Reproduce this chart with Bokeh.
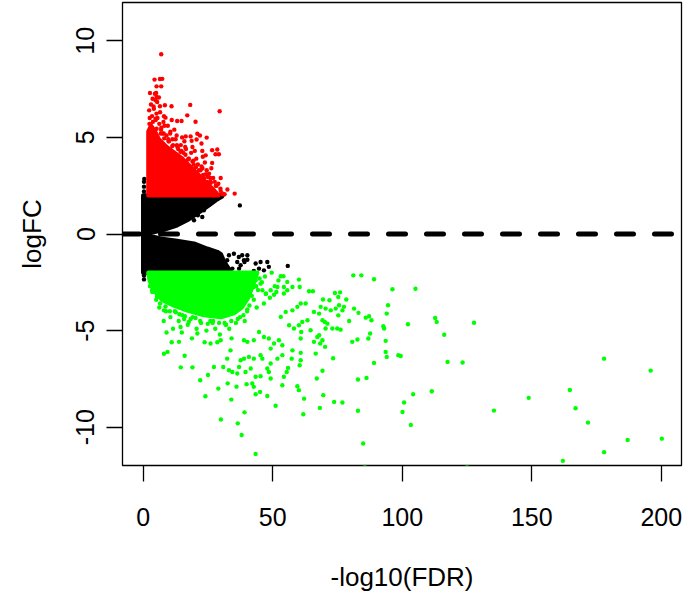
from bokeh.plotting import figure
from bokeh.models import Range1d, FixedTicker, Span
from bokeh.embed import file_html
from bokeh.resources import INLINE

# ---------------- data ----------------
x_ticks = [0, 50, 100, 150, 200]
y_ticks = [-10, -5, 0, 5, 10]
x_title = "-log10(FDR)"
y_title = "logFC"
hline_y = 0

# dense cores (outline of the solidly overplotted areas)
black_up_x = [0, 1, 4, 8, 13, 17, 21, 25, 28, 30.5, 30.5, 0]
black_up_y = [0.03, 0.05, 0.1, 0.22, 0.45, 0.72, 1.08, 1.45, 1.75, 1.95, 2.0, 2.0]
black_dn_x = [0, 1, 6.7, 13.1, 19.6, 24.7, 28.6, 30, 31, 33, 34, 0]
black_dn_y = [-0.03, -0.05, -0.24, -0.36, -0.5, -0.76, -0.93, -1.05, -1.4, -1.8, -2.0, -2.0]
red_core_x = [2.0, 2.0, 3, 4.5, 6, 9, 12, 15, 18, 21, 24, 27, 29]
red_core_y = [2.0, 5.3, 5.6, 5.3, 4.9, 4.5, 4.2, 3.9, 3.5, 3.1, 2.7, 2.3, 2.0]
green_core_x = [2.0, 44, 42.5, 40.5, 38, 35, 30, 23.4, 17, 11.8, 7.3, 4.1, 2.5]
green_core_y = [-2.0, -2.0, -2.6, -3.3, -3.8, -4.1, -4.3, -4.2, -3.95, -3.7, -3.4, -2.9, -2.4]

# individual points
black_x = [37.3, 21.1, 23.4, 25.7, 27.9, 22.8, 19.6, 0.3, 0.3, 0.3, 0.4, 0.3, 0.3,
           27.3, 29.2, 30.5, 32.4, 33.1, 35.0, 36.9, 38.2, 40.2, 36.3, 37.6, 38.9,
           43.4, 45.3, 47.9, 44.7, 46.6, 48.5, 55.8, 34.4, 31.8, 42.7, 40.2, 39.1, 37.0]
black_y = [1.48, 0.97, 1.23, 1.54, 1.78, 0.88, 0.71, 2.2, 2.45, 2.7, 2.85, -2.15, -2.35,
           -0.98, -1.10, -1.22, -1.36, -1.10, -1.02, -1.19, -1.10, -1.10, -1.45, -1.62, -1.36,
           -1.53, -1.45, -1.45, -1.79, -1.88, -1.70, -1.65, -1.79, -1.71, -1.91, -1.33, -1.45, -1.79]

red_x = [6.94, 4.37, 6.45, 7.35, 5.14, 6.94, 4.50, 5.14, 6.04, 4.76, 5.40, 6.45, 8.36, 10.93,
         18.14, 29.5, 4.11, 5.14, 4.76, 8.0, 8.6, 13.1, 14.8, 17.0, 20.2, 18.3, 16.4, 20.9,
         21.9, 24.5, 20.6, 18.7, 22.5, 22.8, 26.6, 28.6, 27.9, 29.2, 24.1, 26.6, 29.9, 25.4,
         24.7, 25.4, 27.9, 31.4, 35.3, 29.9,
         2.3, 3.0, 3.6, 2.6, 4.0, 5.5, 6.2, 7.0, 7.5, 9.0, 9.8, 10.5, 11.5, 12.5, 13.5, 14.5,
         15.5, 16.5, 17.5, 18.5, 19.5, 20.5, 21.5, 22.5, 23.5, 24.5, 26.0, 27.0, 28.0, 29.0,
         12.0, 15.0, 19.0, 23.0, 11.0, 9.5, 7.8, 6.5, 5.0, 30.5, 32.5,
         2.5, 3.4, 4.8, 6.9, 7.9, 9.7, 11.3, 13.0, 14.8, 17.6, 19.4, 21.1, 22.9, 24.2,
         25.9, 27.6, 30.8, 16.2, 10.4, 8.2, 12.9, 15.9, 19.9, 23.8, 26.3,
         2.4, 3.7, 5.2, 6.8, 8.1, 9.9, 11.2, 13.2, 14.4, 16.3, 17.3, 19.0, 20.3, 22.1,
         23.1, 25.0, 26.1, 28.3, 29.8]
red_y = [9.30, 7.99, 8.02, 8.03, 7.64, 7.64, 7.26, 7.09, 7.06, 6.92, 6.83, 6.61, 6.66, 6.61,
         6.68, 6.35, 6.48, 6.23, 5.97, 6.09, 6.02, 5.85, 5.85, 6.14, 5.81, 5.05, 5.05, 5.19,
         5.10, 4.99, 4.89, 4.82, 4.68, 4.30, 4.34, 4.37, 4.13, 4.13, 4.07, 3.68, 2.90, 3.12,
         2.69, 2.52, 2.13, 2.06, 2.09, 2.23,
         6.4, 6.7, 7.0, 7.3, 6.6, 6.0, 5.7, 5.5, 5.2, 5.1, 4.8, 5.3, 4.6, 4.9, 4.4, 4.6,
         4.2, 4.4, 3.9, 4.2, 3.6, 3.9, 3.3, 3.5, 2.9, 3.3, 2.7, 2.9, 2.5, 2.6,
         5.4, 5.0, 4.5, 4.0, 5.9, 5.6, 5.8, 6.3, 7.3, 2.1, 2.3,
         6.0, 6.1, 5.9, 5.4, 5.2, 4.9, 4.9, 4.6, 4.3, 3.9, 3.8, 3.6, 3.4, 3.1,
         2.9, 2.7, 2.05, 4.5, 5.2, 5.6, 5.1, 4.8, 4.3, 3.7, 3.4,
         5.7, 5.8, 5.45, 5.2, 4.95, 4.8, 4.55, 4.5, 4.25, 4.1, 3.85, 3.75, 3.45, 3.3,
         3.05, 2.95, 2.65, 2.5, 2.35]

green_x = [81.1, 84.2, 89.1, 96.2, 53.1, 54.1, 60.1, 55.6, 57.6, 60.4, 64.0, 65.5, 74.0, 76.0,
           71.9, 69.4, 78.4, 75.3, 51.8, 54.3, 49.2, 47.4, 50.5, 55.6, 54.3, 45.3, 43.4, 42.7,
           46.0, 60.8, 62.7, 59.5, 57.6, 55.0, 53.1, 68.5, 70.4, 72.4, 74.3, 75.6, 76.9, 77.5,
           65.9, 67.9, 69.2, 70.1, 71.1, 70.4, 73.0, 74.9, 76.2, 75.3, 79.5, 81.4, 83.1, 85.9,
           87.2, 88.1, 92.7, 93.0, 94.0, 94.5, 63.4, 64.6, 61.4, 60.1, 58.2, 56.3, 67.2, 67.9,
           69.2, 70.2, 68.3, 65.9, 60.8, 61.0, 80.7, 82.7, 86.9, 87.6, 93.6, 93.6, 94.0, 98.5,
           89.1, 73.3, 66.6, 69.2, 67.0, 60.8, 60.8, 60.4, 57.6, 57.3, 55.9, 55.4, 53.7, 52.4,
           50.5, 49.2, 48.5, 46.6, 44.7, 42.7, 40.2, 38.9, 53.7, 51.8, 49.2, 47.9, 46.0, 45.3,
           42.7, 40.8, 38.9, 37.6, 37.0, 33.7, 32.4, 33.1, 30.9, 27.3, 26.0, 29.9, 34.4, 36.3,
           39.5, 41.5, 45.3, 48.5, 49.2, 43.4, 42.1, 42.7, 39.9, 45.1, 47.9, 43.4, 54.3, 53.7,
           51.1, 59.5, 60.1, 62.1, 61.8, 69.5, 68.2, 73.7, 76.9, 82.9, 86.2, 82.9, 84.9, 43.4,
           34.0,
           105.1, 102.2, 112.7, 113.3, 116.2, 127.7, 117.5, 123.3, 99.4, 104.2, 100.7, 100.1,
           103.3, 111.4, 135.4, 148.8, 164.7, 166.9, 171.7, 177.9, 195.9, 162.0, 177.9, 187.0,
           200.2, 125.0, 85.5,
           8.0, 15.1, 14.4, 17.6, 13.8, 20.9,
           9.0, 11.0, 8.0, 14.5, 22.0, 32.6, 39.1, 9.4, 16.0, 19.0, 25.0, 29.0,
           36.0, 24.0, 30.0, 36.5, 38.0,
           3.5, 5.0, 6.2, 8.8, 10.5, 12.2, 13.7, 15.8, 17.2, 19.1, 20.6, 22.3, 24.4, 25.9,
           27.8, 29.6, 31.4, 33.2, 35.8, 37.4, 39.2, 41.0, 42.7, 44.3, 45.8, 47.3, 14.9, 18.8,
           23.7, 28.6, 34.1, 11.5, 7.9, 26.8, 32.0, 40.1, 43.8, 46.6, 48.9, 50.8, 52.2, 47.0,
           44.9, 49.6, 51.4,
           43.6, 41.9, 40.2, 38.7, 36.5, 34.0, 31.8, 29.3, 27.0, 24.9, 22.0, 20.2, 18.3, 16.1,
           14.0, 12.6, 10.3, 8.6, 6.5, 5.3, 3.4, 2.6]
green_y = [-2.14, -2.14, -2.34, -2.86, -2.19, -2.19, -2.36, -2.48, -2.74, -2.74, -2.96, -2.96,
           -3.05, -3.02, -3.43, -3.39, -3.39, -3.26, -2.74, -2.74, -2.91, -3.08, -3.14, -2.91,
           -3.08, -2.57, -2.39, -2.74, -2.91, -3.60, -3.60, -3.77, -3.95, -4.03, -4.29, -3.77,
           -3.86, -3.95, -3.86, -3.69, -3.95, -3.77, -4.03, -4.12, -4.46, -4.55, -4.64, -4.89,
           -4.89, -4.89, -4.95, -4.21, -4.50, -3.86, -4.08, -4.33, -4.26, -4.46, -4.77, -4.89,
           -4.12, -3.69, -4.46, -4.98, -4.55, -4.72, -4.89, -4.72, -5.33, -5.24, -5.50, -5.84,
           -5.67, -5.58, -5.41, -5.07, -5.58, -5.46, -5.41, -5.15, -5.53, -6.10, -6.36, -6.27,
           -6.67, -6.43, -6.19, -7.08, -7.48, -6.15, -6.53, -6.79, -6.02, -6.45, -6.93, -7.14,
           -5.76, -5.50, -5.67, -5.93, -5.41, -5.33, -5.07, -5.50, -5.58, -5.50, -6.27, -6.45,
           -6.70, -6.96, -6.45, -6.27, -6.45, -6.36, -6.45, -6.53, -6.88, -6.02, -6.45, -7.05,
           -6.88, -6.88, -5.67, -5.50, -7.14, -7.22, -7.14, -6.96, -7.36, -7.14, -7.48, -7.39,
           -7.74, -7.91, -7.77, -8.17, -8.38, -8.29, -7.39, -7.83, -8.89, -7.88, -8.08, -8.52,
           -9.33, -8.34, -9.00, -8.69, -8.72, -7.53, -7.45, -9.15, -10.84, -11.38, -8.57,
           -2.83, -4.67, -4.35, -4.55, -5.21, -4.59, -6.62, -6.65, -6.31, -8.29, -8.72, -9.21,
           -9.88, -8.14, -9.14, -8.48, -8.07, -9.02, -9.76, -6.45, -7.07, -11.74, -11.29, -10.66,
           -10.59, -12.05, -12.05,
           -3.95, -4.2, -4.81, -4.55, -5.58, -5.15,
           -5.1, -5.6, -6.2, -6.9, -7.57, -7.73, -9.23, -6.1, -6.3, -6.9,
           -7.3, -8.0, -7.9, -8.4, -9.6, -9.8, -10.4,
           -3.0, -3.4, -3.8, -4.0, -4.3, -4.0, -4.5, -4.4, -4.7, -4.3, -4.9, -4.6, -5.0, -4.5,
           -4.9, -5.2, -4.6, -4.9, -4.6, -4.3, -4.5, -3.7, -3.4, -2.9, -2.5, -3.1, -5.1, -5.4,
           -5.6, -5.6, -5.4, -4.9, -4.5, -4.6, -4.7, -4.0, -3.8, -3.6, -3.3, -2.7, -2.4, -2.2,
           -2.3, -2.0, -3.0,
           -2.7, -3.2, -3.9, -4.2, -4.4, -4.5, -4.7, -4.6, -4.5, -4.65, -4.5, -4.35, -4.4, -4.25,
           -4.15, -4.05, -4.0, -3.75, -3.6, -3.25, -2.9, -2.7]

# ---------------- styling ----------------
FONT = "Liberation Sans"
BLACK = "#000000"
RED = "#FF0000"
GREEN = "#00FF00"
DOT = 4.4

p = figure(width=684, height=594, output_backend="svg", toolbar_location=None,
           x_range=Range1d(-8.0, 207.8), y_range=Range1d(-11.98, 11.98),
           min_border_left=122, min_border_right=3, min_border_top=2,
           min_border_bottom=129)
p.grid.visible = False
p.outline_line_color = "black"
p.outline_line_width = 1.3

for ax in (p.xaxis[0], p.yaxis[0]):
    ax.axis_line_color = None
    ax.major_tick_out = 16
    ax.major_tick_in = 0
    ax.minor_tick_out = 0
    ax.minor_tick_in = 0
    ax.major_tick_line_width = 1.3
    ax.major_tick_line_color = "black"
    ax.major_label_text_font = FONT
    ax.major_label_text_font_size = "25px"
    ax.major_label_text_color = "black"
    ax.axis_label_text_font = FONT
    ax.axis_label_text_font_size = "26px"
    ax.axis_label_text_font_style = "normal"
    ax.axis_label_text_color = "black"

p.xaxis.ticker = FixedTicker(ticks=x_ticks)
p.yaxis.ticker = FixedTicker(ticks=y_ticks)
p.xaxis.major_label_overrides = {t: str(t) for t in x_ticks}
p.yaxis.major_label_overrides = {t: str(t) for t in y_ticks}
p.yaxis.major_label_orientation = "vertical"
p.xaxis.axis_label = x_title
p.yaxis.axis_label = y_title
p.xaxis.major_label_standoff = 26
p.yaxis.major_label_standoff = 12
p.xaxis.axis_label_standoff = 33
p.yaxis.axis_label_standoff = 27

# black (not significant)
p.patch(black_up_x, black_up_y, fill_color=BLACK, line_color=BLACK, line_width=DOT, line_join="round")
p.patch(black_dn_x, black_dn_y, fill_color=BLACK, line_color=BLACK, line_width=DOT, line_join="round")
p.scatter(black_x, black_y, size=DOT, fill_color=BLACK, line_color=None)
# red (up)
p.patch(red_core_x, red_core_y, fill_color=RED, line_color=RED, line_width=DOT, line_join="round")
p.scatter(red_x, red_y, size=DOT, fill_color=RED, line_color=None)
# green (down)
p.patch(green_core_x, green_core_y, fill_color=GREEN, line_color=GREEN, line_width=DOT, line_join="round")
p.scatter(green_x, green_y, size=DOT, fill_color=GREEN, line_color=None)

p.add_layout(Span(location=hline_y, dimension="width", line_color="black", line_width=5,
                  line_dash="17 21", line_cap="round"))

open("out.html", "w").write(file_html(p, INLINE))
